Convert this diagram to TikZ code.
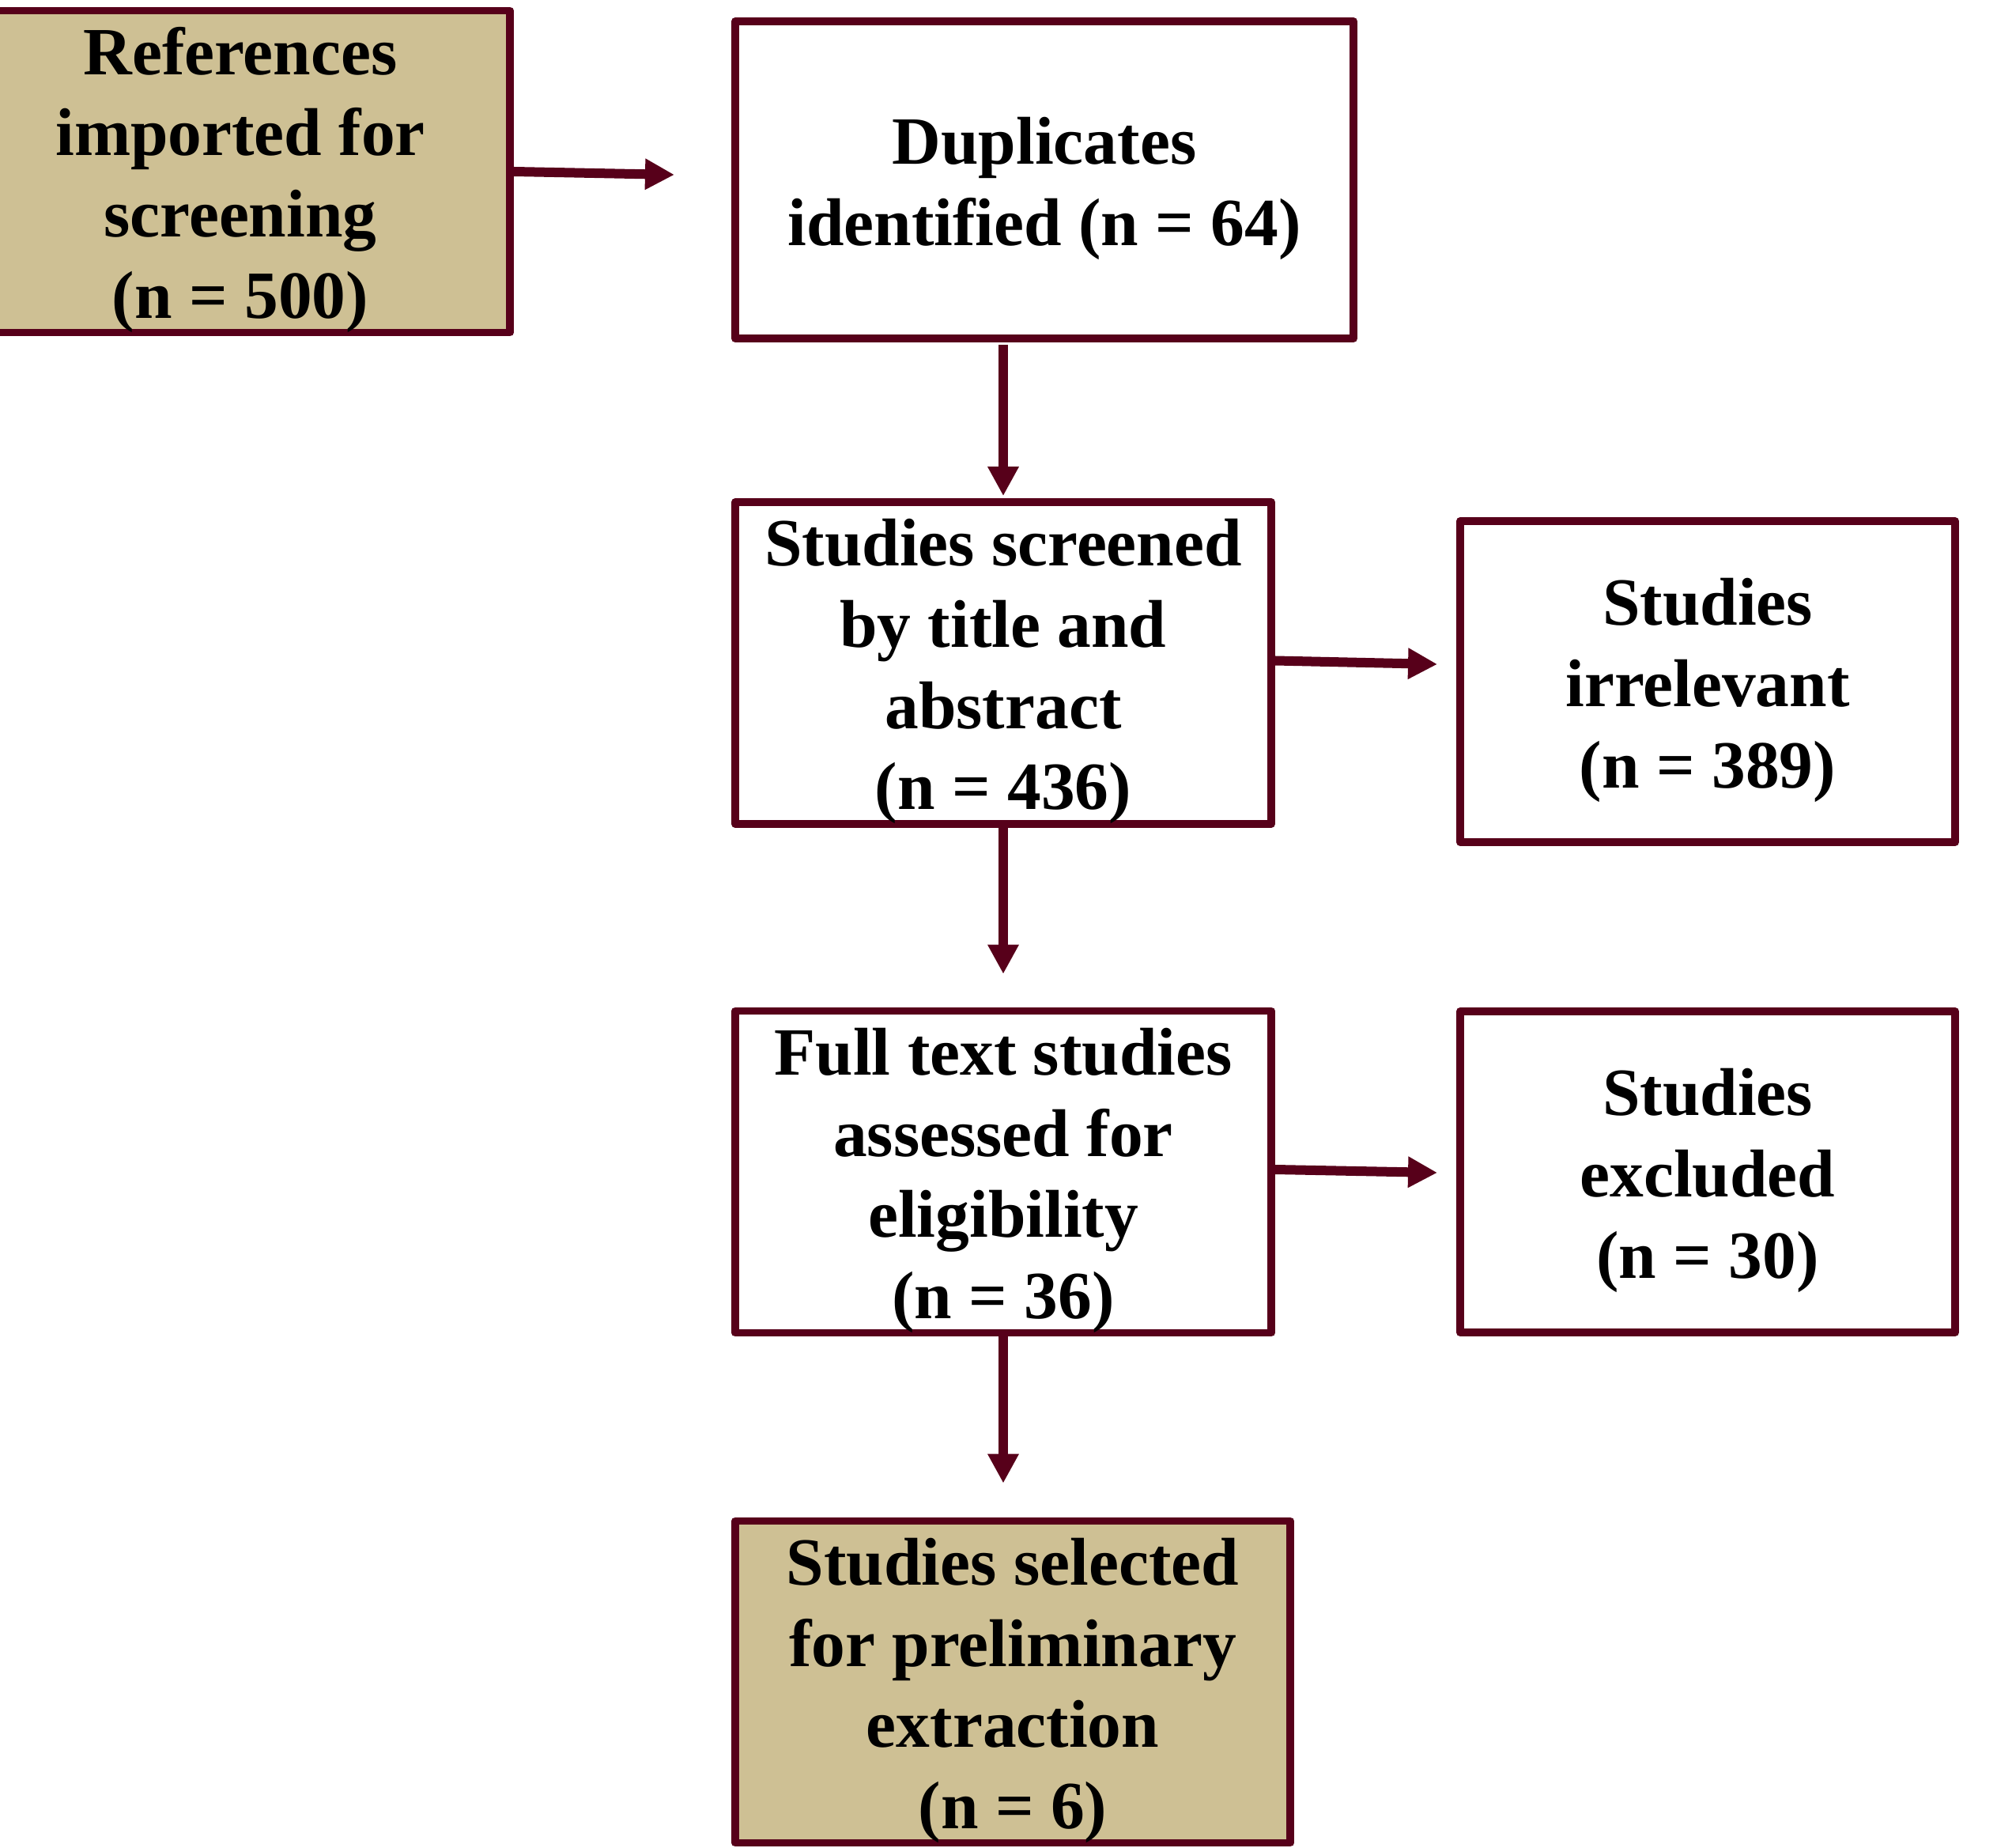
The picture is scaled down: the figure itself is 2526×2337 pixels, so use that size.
\documentclass[tikz,border=0pt]{standalone}
\usepackage{fontspec}
\setmainfont{Liberation Serif}
\usetikzlibrary{arrows.meta,calc}
\definecolor{bord}{RGB}{87,0,26}
\definecolor{tan}{RGB}{206,192,148}
\newcommand\boxstrut{\rule{0pt}{23pt}}
\begin{document}
\begin{tikzpicture}[x=0.01cm,y=-0.01cm,
  box/.style={draw=bord,line width=0.095cm,line join=round,inner sep=0pt,align=center,
    font=\bfseries\fontsize{24.3pt}{29.2pt}\selectfont,text=black},
  tanbox/.style={box,fill=tan},
  whitebox/.style={box,fill=white},
  conn/.style={draw=bord,line width=0.12cm,-{Triangle[length=0.37cm,width=0.37cm]}}]
\useasboundingbox (0,0) rectangle (2526,2337);
\begin{scope}
\clip (0,0) rectangle (2526,2337);
\node[tanbox,minimum width=6.82cm,minimum height=4.06cm] (ref) at (304,217)
  {\boxstrut References\\imported for\\screening\\(n = 500)};
\end{scope}
\node[whitebox,minimum width=7.82cm,minimum height=4.01cm] (dup) at (1321,227.5)
  {\boxstrut Duplicates\\identified (n = 64)};
\node[whitebox,minimum width=6.78cm,minimum height=4.05cm] (scr) at (1269,838.5)
  {\boxstrut Studies screened\\by title and\\abstract\\(n = 436)};
\node[whitebox,minimum width=6.26cm,minimum height=4.06cm] (irr) at (2160,862)
  {\boxstrut Studies\\irrelevant\\(n = 389)};
\node[whitebox,minimum width=6.78cm,minimum height=4.06cm] (full) at (1269,1482)
  {\boxstrut Full text studies\\assessed for\\eligibility\\(n = 36)};
\node[whitebox,minimum width=6.26cm,minimum height=4.06cm] (exc) at (2160,1482)
  {\boxstrut Studies\\excluded\\(n = 30)};
\node[tanbox,minimum width=7.02cm,minimum height=4.04cm] (sel) at (1281,2127)
  {\boxstrut Studies selected\\for preliminary\\extraction\\(n = 6)};
\coordinate (t1) at (853,221);
\draw[conn] (ref.east) -- (t1);
\draw[conn] ($(dup.south -| scr.north)+(0,3)$) -- ($(scr.north)+(0,-3)$);
\draw[conn] ($(scr.east)+(0,-3)$) -- ($(irr.west)+(-24,-22)$);
\draw[conn] (scr.south) -- ($(full.north)+(0,-42)$);
\draw[conn] ($(full.east)+(0,-3)$) -- ($(exc.west)+(-24,1)$);
\draw[conn] (full.south) -- ($(full.south |- sel.north)+(0,-43)$);
\end{tikzpicture}
\end{document}
